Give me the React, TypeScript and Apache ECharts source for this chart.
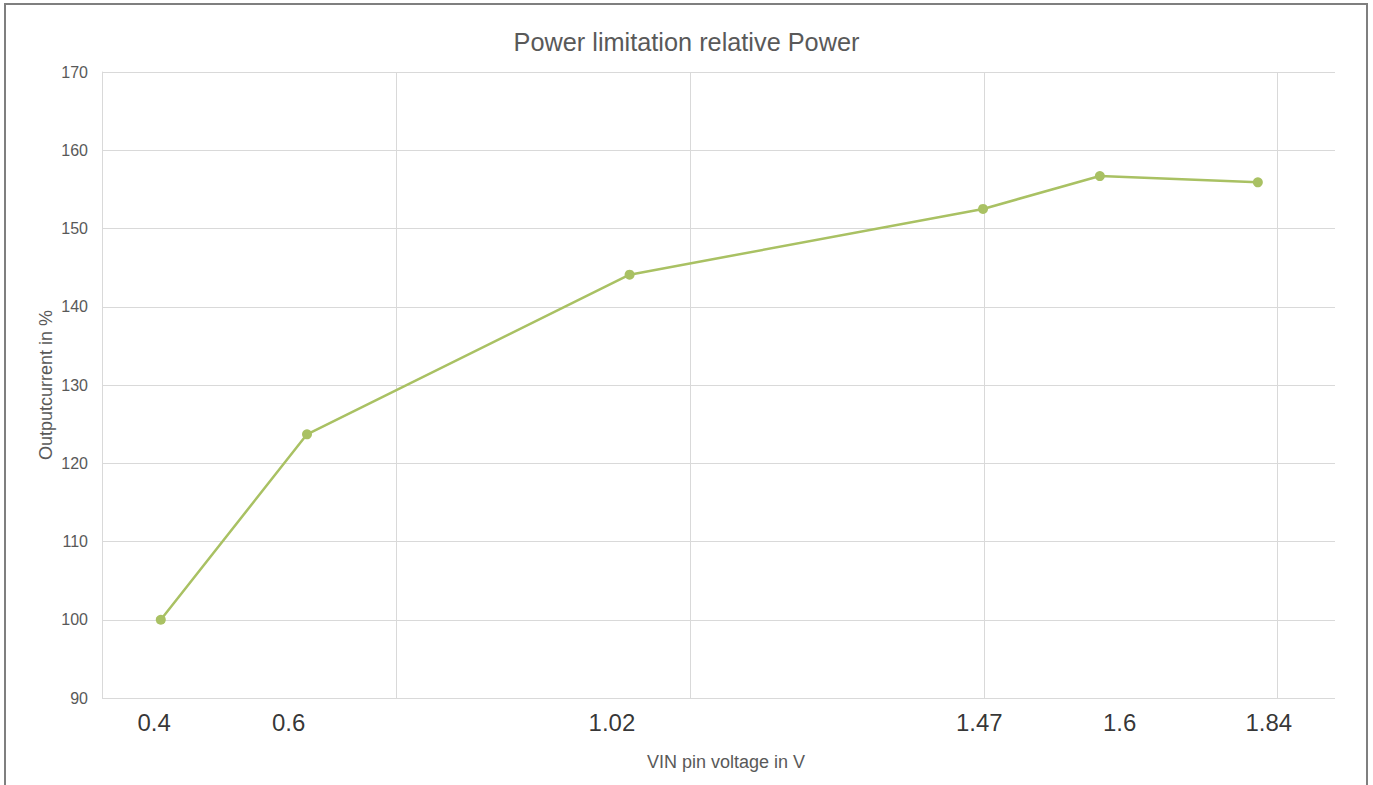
import React, { useEffect, useRef } from "react";
import * as echarts from "echarts";

// data
const xValues = [0.38, 0.579, 1.018, 1.499, 1.658, 1.873];
const yValues = [100, 123.7, 144.1, 152.5, 156.7, 155.9];
const xLabels = ["0.4", "0.6", "1.02", "1.47", "1.6", "1.84"];
const xLabelAt = [0.371, 0.554, 0.994, 1.494, 1.685, 1.888];
const xGridAt = [0.7, 1.1, 1.5, 1.9];
const xMin = 0.3;
const xMax = 1.978;
const yMin = 90;
const yMax = 170;
const yStep = 10;

const GRAY = "#595959";
const GRID = "#d9d9d9";
const GREEN = "#a9c163";
const FONT = "Liberation Sans, Arial, sans-serif";

export default function App() {
  const ref = useRef<HTMLDivElement>(null);
  useEffect(() => {
    if (!ref.current) return;
    const chart = echarts.init(ref.current, null, { renderer: "svg" });
    chart.setOption({
      animation: false,
      backgroundColor: "#ffffff",
      textStyle: { fontFamily: FONT },
      title: {
        text: "Power limitation relative Power",
        left: "center",
        top: 29,
        padding: 0,
        textStyle: { color: GRAY, fontSize: 25.3, fontWeight: "normal", fontFamily: FONT },
      },
      grid: { left: 102, right: 38, top: 72, bottom: 87, containLabel: false },
      xAxis: {
        type: "value",
        min: xMin,
        max: xMax,
        axisLine: { show: false },
        axisTick: { show: false },
        axisLabel: { show: false },
        splitLine: { show: false },
        name: "VIN pin voltage in V",
        nameLocation: "middle",
        nameGap: 55,
        nameTextStyle: { color: GRAY, fontSize: 18, fontFamily: FONT, padding: [0, 0, 0, 15] },
      },
      yAxis: {
        type: "value",
        min: yMin,
        max: yMax,
        interval: yStep,
        axisLine: { show: true, lineStyle: { color: GRID, width: 1 } },
        axisTick: { show: false },
        axisLabel: { color: GRAY, fontSize: 16, margin: 14, fontFamily: FONT },
        splitLine: { show: true, lineStyle: { color: GRID, width: 1 } },
        name: "Outputcurrent in %",
        nameLocation: "middle",
        nameMoveOverlap: false,
        nameGap: 47,
        nameTextStyle: { color: GRAY, fontSize: 18, fontFamily: FONT },
      },
      series: [
        {
          type: "line",
          z: 1,
          data: [],
          markLine: {
            silent: true,
            z: 1,
            symbol: ["none", "none"],
            label: { show: false },
            lineStyle: { color: GRID, width: 1, type: "solid" },
            emphasis: { disabled: true },
            data: xGridAt.map((v) => ({ xAxis: v })),
          },
        },
        {
          type: "line",
          z: 3,
          data: xValues.map((x, i) => [x, yValues[i]]),
          symbol: "circle",
          symbolSize: 10,
          lineStyle: { color: GREEN, width: 2.5 },
          itemStyle: { color: GREEN },
        },
        {
          type: "scatter",
          z: 3,
          symbolSize: 0,
          clip: false,
          silent: true,
          data: xLabelAt.map((x) => [x, yMin]),
          label: {
            show: true,
            position: "bottom",
            distance: 12,
            color: "#000000",
            fontSize: 24,
            fontFamily: FONT,
            formatter: (p: any) => xLabels[p.dataIndex],
          },
        },
      ],
      graphic: [
        {
          type: "rect",
          silent: true,
          shape: { x: 5, y: 4, width: 1362, height: 800 },
          style: { fill: "none", stroke: "#7f7f7f", lineWidth: 2 },
          z: 100,
        },
      ],
    });
    return () => chart.dispose();
  }, []);
  return (
    <div
      ref={ref}
      style={{ position: "fixed", left: 0, top: 0, width: 1373, height: 785 }}
    />
  );
}
